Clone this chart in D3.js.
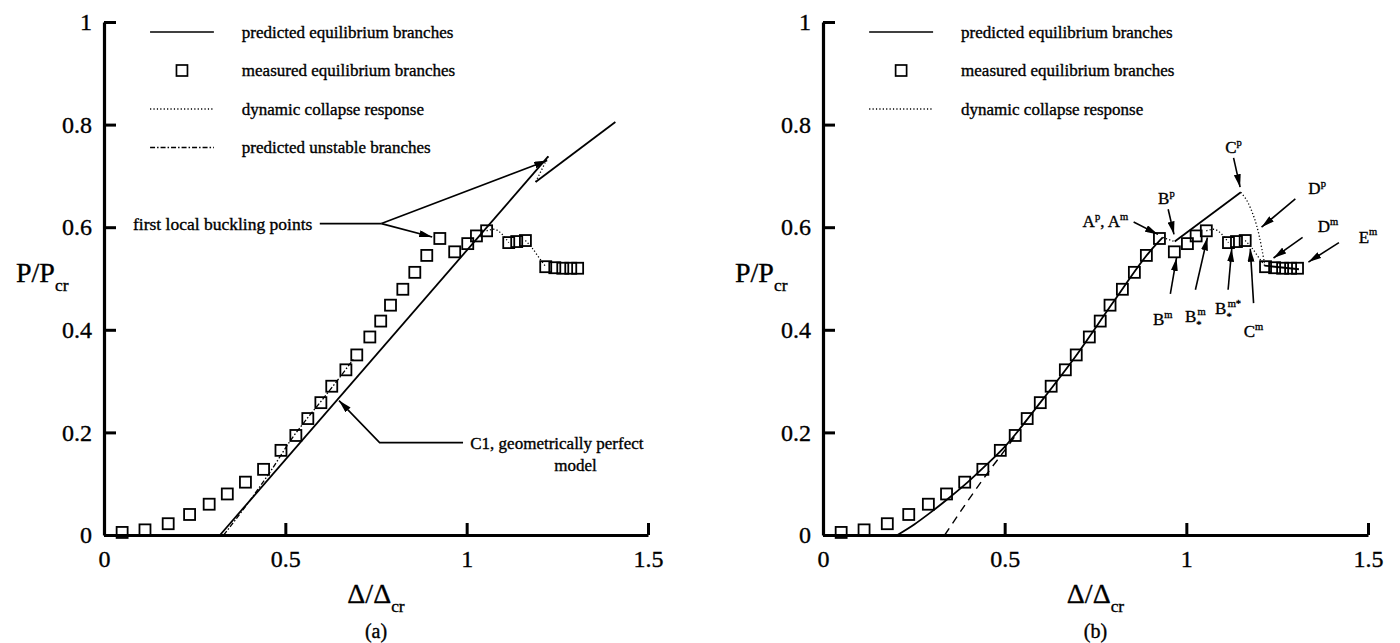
<!DOCTYPE html>
<html><head><meta charset="utf-8">
<script src="https://cdn.jsdelivr.net/npm/d3@7"></script>
<style>
body{margin:0;background:#fff}
svg{display:block}
text{font-family:"Liberation Serif","Times New Roman",serif;fill:#000;stroke:#000;stroke-width:0.35px}
</style></head><body><svg id="c" width="1400" height="643"></svg>
<script>
// ---------- data ----------
const xMajorTicks = [0, 0.5, 1, 1.5];
const xTickLabels = ["0", "0.5", "1", "1.5"];
const xMinorTicks = [0.1,0.2,0.3,0.4,0.6,0.7,0.8,0.9,1.1,1.2,1.3,1.4];
const yMajorTicks = [0, 0.2, 0.4, 0.6, 0.8, 1];
const yTickLabels = ["0", "0.2", "0.4", "0.6", "0.8", "1"];
const yMinorTicks = [0.04,0.08,0.12,0.16,0.24,0.28,0.32,0.36,0.44,0.48,0.52,0.56,0.64,0.68,0.72,0.76,0.84,0.88,0.92,0.96];

// measured equilibrium branches (same test in both panels)
const measX = [0.05,0.113,0.177,0.236,0.29,0.34,0.39,0.44,0.488,0.529,0.562,0.598,0.628,0.667,0.697,0.733,0.763,0.79,0.824,0.857,0.89,0.926,0.967,1.003,1.027,1.055,1.116,1.138,1.162,1.218,1.243,1.265,1.287,1.306];
const measY = [0.005,0.01,0.022,0.04,0.06,0.08,0.103,0.128,0.165,0.194,0.227,0.258,0.29,0.322,0.351,0.386,0.417,0.448,0.479,0.512,0.545,0.578,0.552,0.568,0.583,0.593,0.57,0.572,0.574,0.523,0.521,0.52,0.52,0.52];

// measured dynamic collapse segments
const measDyn1X = [1.055, 1.075, 1.095, 1.116];
const measDyn1Y = [0.593, 0.596, 0.588, 0.570];
const measDyn2X = [1.162, 1.180, 1.200, 1.218];
const measDyn2Y = [0.574, 0.560, 0.540, 0.523];

// panel (a): C1 geometrically perfect model
const aPredX = [0.32, 1.225];
const aPredY = [0.0, 0.738];
const aPred2X = [1.19, 1.41];
const aPred2Y = [0.688, 0.805];
const aDynX = [1.225, 1.19];
const aDynY = [0.738, 0.688];
const aUnstX = [0.33, 0.40, 0.46, 0.52, 0.56, 0.60, 0.64, 0.69];
const aUnstY = [0.0, 0.065, 0.125, 0.19, 0.227, 0.262, 0.298, 0.345];

// panel (b): model with imperfections
const bPredX = [0.205, 0.25, 0.30, 0.35, 0.40, 0.45, 0.50, 0.60, 0.70, 0.80, 0.90, 0.935];
const bPredY = [0.0, 0.02, 0.046, 0.074, 0.104, 0.137, 0.172, 0.26, 0.353, 0.455, 0.553, 0.58];
const bPred2X = [0.968, 1.15];
const bPred2Y = [0.572, 0.668];
const bPred3X = [1.215, 1.31];
const bPred3Y = [0.525, 0.518];
const bDyn1X = [0.935, 0.968];
const bDyn1Y = [0.58, 0.572];
const bDyn2X = [1.15, 1.175, 1.20, 1.215];
const bDyn2Y = [0.668, 0.64, 0.585, 0.53];
const bDashX = [0.335, 0.40, 0.45, 0.50, 0.53];
const bDashY = [0.0, 0.068, 0.118, 0.165, 0.194];

const legendA = ["predicted equilibrium branches","measured equilibrium branches","dynamic collapse response","predicted unstable branches"];
const legendB = ["predicted equilibrium branches","measured equilibrium branches","dynamic collapse response"];

// ---------- drawing ----------
const svg = d3.select("#c");
const defs = svg.append("defs");
defs.append("marker").attr("id","ah").attr("viewBox","0 0 13 7").attr("refX",13).attr("refY",3.5)
  .attr("markerWidth",13).attr("markerHeight",7).attr("orient","auto").attr("markerUnits","userSpaceOnUse")
  .append("path").attr("d","M0,0 L13,3.5 L0,7 Z").attr("fill","#000");

const DOT = "1.2,2.2", DASHDOT = "5,2,1.5,2", DASH = "8,6";

function rich(sel, x, y, parts, fs, anchor){
  const t = sel.append("text").attr("x",x).attr("y",y).attr("font-size",fs).attr("text-anchor",anchor||"start");
  let shift = 0;
  parts.forEach(p=>{
    const target = p.sup ? -0.42*fs : p.sub ? 0.32*fs : 0;
    const ts = t.append("tspan").attr("dy", target-shift).text(p.t);
    if (p.dx) ts.attr("dx", p.dx);
    if (p.sup||p.sub) ts.attr("font-size", fs*0.62);
    shift = target;
  });
  return t;
}

function panel(cfg){
  const g = svg.append("g");
  const x = d3.scaleLinear().domain([0,1.5]).range([cfg.x0, cfg.x1]);
  const y = d3.scaleLinear().domain([0,1]).range([535, 22]);
  const line = (xs, ys, curve) => d3.line().x(d=>x(d[0])).y(d=>y(d[1])).curve(curve||d3.curveLinear)(xs.map((v,i)=>[v, ys[i]]));

  // axes
  const gx = g.append("g").attr("transform",`translate(0,${y(0)})`);
  gx.call(d3.axisBottom(x).tickValues(xMinorTicks).tickSize(-6).tickSizeOuter(0).tickFormat(""));
  gx.call(d3.axisBottom(x).tickValues(xMajorTicks).tickSize(-12).tickSizeOuter(0).tickPadding(15)
     .tickFormat((d,i)=>xTickLabels[i]));
  const gy = g.append("g").attr("transform",`translate(${x(0)},0)`);
  gy.call(d3.axisLeft(y).tickValues(yMinorTicks).tickSize(-6).tickSizeOuter(0).tickFormat(""));
  gy.call(d3.axisLeft(y).tickValues(yMajorTicks).tickSize(-12).tickSizeOuter(0).tickPadding(12)
     .tickFormat((d,i)=>yTickLabels[i]));
  g.selectAll(".domain").attr("stroke","#000").attr("stroke-width",3.2);
  g.selectAll(".tick line").attr("stroke","#000").attr("stroke-width",1.6);
  g.selectAll(".tick text").attr("font-size",24).attr("font-family","Liberation Serif, Times New Roman, serif")
    .attr("fill","#000").attr("stroke","#000").attr("stroke-width",0.4);
  gx.selectAll(".tick").filter(d=>xMajorTicks.includes(d)).select("line").attr("stroke-width",3);
  gy.selectAll(".tick").filter(d=>yMajorTicks.includes(d)).select("line").attr("stroke-width",3);

  // axis titles
  rich(g, (cfg.x0+cfg.x1)/2, 603, [{t:"\u0394/\u0394"},{t:"cr",sub:true}], 28, "middle");
  rich(g, cfg.x0-88, 282, [{t:"P/P"},{t:"cr",sub:true}], 28, "start");
  g.append("text").attr("x",(cfg.x0+cfg.x1)/2).attr("y",638).attr("font-size",20).attr("text-anchor","middle").text(cfg.tag);

  // legend
  const lg = g.append("g");
  const legX0 = x(0.127), legX1 = x(0.303), legS = x(0.215), legT = x(0.38);
  cfg.legend.forEach((lab,i)=>{
    const ly = 32 + i*38.5;
    if (i===0) lg.append("line").attr("x1",legX0).attr("x2",legX1).attr("y1",ly).attr("y2",ly).attr("stroke","#000").attr("stroke-width",1.6);
    if (i===1) lg.append("rect").attr("x",legS-5.5).attr("y",ly-5.5).attr("width",11).attr("height",11).attr("fill","none").attr("stroke","#000").attr("stroke-width",1.7);
    if (i===2) lg.append("line").attr("x1",legX0).attr("x2",legX1).attr("y1",ly).attr("y2",ly).attr("stroke","#000").attr("stroke-width",1.3).attr("stroke-dasharray",DOT);
    if (i===3) lg.append("line").attr("x1",legX0).attr("x2",legX1).attr("y1",ly).attr("y2",ly).attr("stroke","#000").attr("stroke-width",1.3).attr("stroke-dasharray",DASHDOT);
    lg.append("text").attr("x",legT).attr("y",ly+5.5).attr("font-size",17).text(lab);
  });

  // curves
  cfg.curves.forEach(c=>{
    g.append("path").attr("d", line(c.xs, c.ys, c.curve)).attr("fill","none").attr("stroke","#000")
      .attr("stroke-width", c.w||1.8).attr("stroke-dasharray", c.dash||null);
  });

  // measured squares
  g.selectAll("rect.m").data(measX.map((v,i)=>[v, measY[i]])).join("rect").attr("class","m")
    .attr("x",d=>x(d[0])-5.5).attr("y",d=>y(d[1])-5.5).attr("width",11).attr("height",11)
    .attr("fill","none").attr("stroke","#000").attr("stroke-width",1.8);

  // annotations
  cfg.arrows.forEach(a=>{
    const pts = a.pts.map(p=>[x(p[0]), y(p[1])]);
    g.append("path").attr("d", d3.line()(pts)).attr("fill","none").attr("stroke","#000").attr("stroke-width",1.6)
      .attr("marker-end", a.head===false ? null : "url(#ah)");
  });
  cfg.labels.forEach(l=>{
    rich(g, x(l.x), y(l.y), l.parts, l.fs||17, l.anchor||"start");
  });
}

panel({
  x0:104, x1:648, tag:"(a)", legend:legendA,
  curves:[
    {xs:aPredX, ys:aPredY},
    {xs:aPred2X, ys:aPred2Y},
    {xs:aDynX, ys:aDynY, dash:DOT, w:1.3},
    {xs:aUnstX, ys:aUnstY, dash:DASHDOT, w:1.3, curve:d3.curveMonotoneX},
    {xs:measDyn1X, ys:measDyn1Y, dash:DOT, w:1.3, curve:d3.curveMonotoneX},
    {xs:measDyn2X, ys:measDyn2Y, dash:DOT, w:1.3, curve:d3.curveMonotoneX}
  ],
  arrows:[
    {pts:[[0.595,0.607],[0.765,0.607]], head:false},
    {pts:[[0.765,0.607],[0.905,0.581]]},
    {pts:[[0.765,0.607],[1.222,0.73]]},
    {pts:[[0.99,0.18],[0.76,0.18],[0.648,0.262]]}
  ],
  labels:[
    {x:0.08, y:0.594, parts:[{t:"first local buckling points"}], fs:17.5},
    {x:1.01, y:0.168, parts:[{t:"C1, geometrically perfect"}]},
    {x:1.30, y:0.125, parts:[{t:"model"}], anchor:"middle"}
  ]
});

panel({
  x0:823, x1:1368, tag:"(b)", legend:legendB,
  curves:[
    {xs:bPredX, ys:bPredY, curve:d3.curveMonotoneX},
    {xs:bPred2X, ys:bPred2Y},
    {xs:bPred3X, ys:bPred3Y},
    {xs:bDyn1X, ys:bDyn1Y, dash:DOT, w:1.3},
    {xs:bDyn2X, ys:bDyn2Y, dash:DOT, w:1.3, curve:d3.curveMonotoneX},
    {xs:bDashX, ys:bDashY, dash:DASH, w:1.4, curve:d3.curveMonotoneX},
    {xs:measDyn1X, ys:measDyn1Y, dash:DOT, w:1.3, curve:d3.curveMonotoneX},
    {xs:measDyn2X, ys:measDyn2Y, dash:DOT, w:1.3, curve:d3.curveMonotoneX}
  ],
  arrows:[
    {pts:[[0.855,0.61],[0.922,0.586]]},
    {pts:[[0.95,0.635],[0.966,0.586]]},
    {pts:[[1.13,0.735],[1.148,0.678]]},
    {pts:[[1.30,0.655],[1.207,0.6]]},
    {pts:[[1.32,0.58],[1.24,0.54]]},
    {pts:[[1.42,0.57],[1.336,0.532]]},
    {pts:[[0.956,0.47],[0.973,0.54]]},
    {pts:[[1.025,0.478],[1.058,0.58]]},
    {pts:[[1.115,0.478],[1.125,0.558]]},
    {pts:[[1.185,0.452],[1.176,0.558]]}
  ],
  labels:[
    {x:0.84, y:0.6, parts:[{t:"A"},{t:"p",sup:true},{t:", A"},{t:"m",sup:true}], anchor:"end"},
    {x:0.945, y:0.645, parts:[{t:"B"},{t:"p",sup:true}], anchor:"middle"},
    {x:1.13, y:0.745, parts:[{t:"C"},{t:"p",sup:true}], anchor:"middle"},
    {x:1.36, y:0.665, parts:[{t:"D"},{t:"p",sup:true}], anchor:"middle"},
    {x:1.39, y:0.59, parts:[{t:"D"},{t:"m",sup:true}], anchor:"middle"},
    {x:1.50, y:0.57, parts:[{t:"E"},{t:"m",sup:true}], anchor:"middle"},
    {x:0.935, y:0.41, parts:[{t:"B"},{t:"m",sup:true}], anchor:"middle"},
    {x:1.025, y:0.415, parts:[{t:"B"},{t:"*",sub:true},{t:"m",sup:true,dx:-4}], anchor:"middle"},
    {x:1.115, y:0.43, parts:[{t:"B"},{t:"*",sub:true},{t:"m*",sup:true,dx:-4}], anchor:"middle"},
    {x:1.185, y:0.385, parts:[{t:"C"},{t:"m",sup:true}], anchor:"middle"}
  ]
});
</script></body></html>
